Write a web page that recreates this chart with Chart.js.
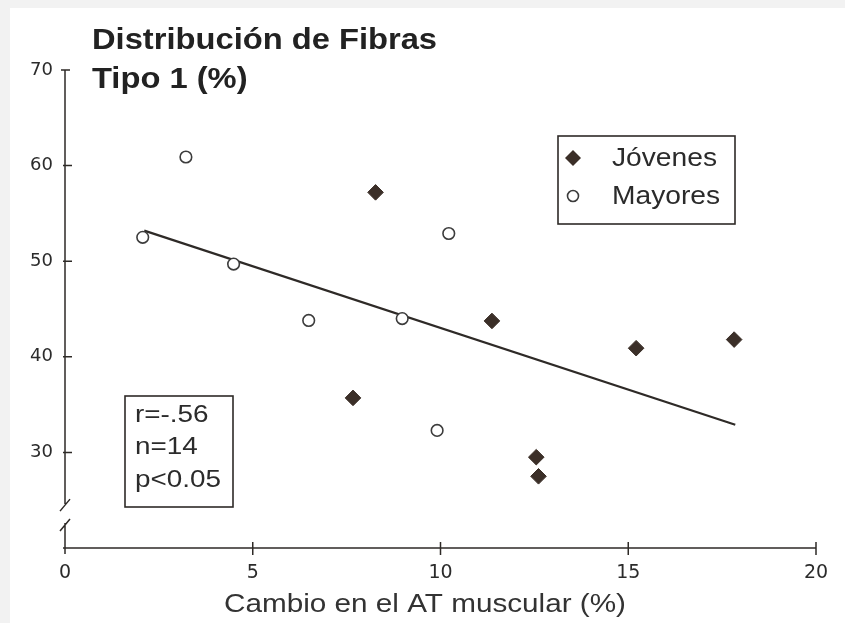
<!DOCTYPE html>
<html>
<head>
<meta charset="utf-8">
<script src="https://cdn.jsdelivr.net/npm/chart.js@4.4.1/dist/chart.umd.min.js"></script>
<style>
  html, body { margin: 0; padding: 0; background: #f2f2f2; }
  #wrap { position: relative; width: 845px; height: 623px; }
</style>
</head>
<body>
<div id="wrap"><canvas id="myChart" width="845" height="623"></canvas></div>
<script>
// values
var jovenesX = [8.27, 11.37, 15.21, 17.82, 7.67, 12.55, 12.61];
var jovenesY = [57.2, 43.75, 40.9, 41.8, 35.7, 29.5, 27.5];
var mayoresX = [2.07, 3.22, 4.49, 6.49, 8.98, 10.22, 9.91];
var mayoresY = [52.5, 60.9, 49.7, 43.8, 44.0, 52.9, 32.3];
var fitX = [2.11, 17.85];
var fitY = [53.2, 32.9];
var xTicks = [0, 5, 10, 15, 20];
var yTicks = [30, 40, 50, 60, 70];
var titleLines = ["Distribución de Fibras", "Tipo 1 (%)"];
var statsLines = ["r=-.56", "n=14", "p<0.05"];
var seriesNames = ["Jóvenes", "Mayores"];
var xTitle = "Cambio en el AT muscular (%)";

var ink = '#2e2a27';
var diamondColor = '#3b2f28';

function toPoints(xs, ys) {
    var pts = [];
    for (var i = 0; i < xs.length; i++) pts.push({x: xs[i], y: ys[i]});
    return pts;
}

// the original print is stretched sideways, so text gets a horizontal scale
function stretchText(c, text, left, cy, sx) {
    c.save();
    c.translate(left, cy);
    c.scale(sx, 1);
    c.fillText(text, 0, 0);
    c.restore();
}
function fitScale(c, text, width) {
    return width / c.measureText(text).width;
}

// axes, ticks, axis break, title, legend and stats box
var decorations = {
    id: 'decorations',
    beforeDraw: function(chart) {
        var c = chart.ctx;
        c.save();
        c.fillStyle = '#f2f2f2';
        c.fillRect(0, 0, chart.width, chart.height);
        c.fillStyle = '#ffffff';
        c.fillRect(10, 8, chart.width - 10, chart.height - 8);
        c.restore();
    },
    afterDatasetsDraw: function(chart) {
        var c = chart.ctx;
        var xs = chart.scales.x, ys = chart.scales.y;
        var x0 = xs.getPixelForValue(0);
        var yBottom = ys.getPixelForValue(20);
        c.save();
        c.strokeStyle = ink;
        c.lineWidth = 1.5;

        // y axis with break
        var yTop = ys.getPixelForValue(70);
        var brkHi = ys.getPixelForValue(24.8);
        var brkLo = ys.getPixelForValue(22.4);
        c.beginPath();
        c.moveTo(x0, yTop); c.lineTo(x0, brkHi + 2);
        c.moveTo(x0, brkLo - 2); c.lineTo(x0, yBottom);
        c.moveTo(x0 - 5, brkHi + 9); c.lineTo(x0 + 5, brkHi - 3);
        c.moveTo(x0 - 5, brkLo + 6); c.lineTo(x0 + 5, brkLo - 6);
        c.stroke();

        // y ticks
        c.beginPath();
        yTicks.forEach(function(v) {
            var py = ys.getPixelForValue(v);
            if (v === 70) { c.moveTo(x0 - 4, py); c.lineTo(x0 + 5, py); }
            else { c.moveTo(x0 - 2, py); c.lineTo(x0 + 7, py); }
        });
        c.stroke();

        // x axis
        c.beginPath();
        c.moveTo(x0 - 2, yBottom); c.lineTo(xs.getPixelForValue(20), yBottom);
        xTicks.forEach(function(v) {
            var px = xs.getPixelForValue(v);
            if (v === 0) { c.moveTo(px, yBottom); c.lineTo(px, yBottom + 6); }
            else { c.moveTo(px, yBottom - 6); c.lineTo(px, yBottom + 7); }
        });
        c.stroke();

        c.textBaseline = 'middle';
        c.textAlign = 'left';

        // title
        c.fillStyle = '#222';
        c.font = 'bold 29px "Liberation Sans", Arial, sans-serif';
        var st = fitScale(c, titleLines[0], 345);
        stretchText(c, titleLines[0], 92, 41, st);
        stretchText(c, titleLines[1], 92, 80, st);

        // x axis title
        c.fillStyle = '#333';
        c.font = '25px "Liberation Sans", Arial, sans-serif';
        stretchText(c, xTitle, 224, 605, fitScale(c, xTitle, 402));

        // legend box
        c.lineWidth = 1.6;
        c.strokeRect(558, 136, 177, 88);
        c.fillStyle = diamondColor;
        c.beginPath();
        c.moveTo(573, 150); c.lineTo(581, 158); c.lineTo(573, 166); c.lineTo(565, 158);
        c.closePath(); c.fill();
        c.fillStyle = '#fff';
        c.strokeStyle = '#3c3c3c';
        c.beginPath(); c.arc(573, 196, 5.5, 0, Math.PI * 2); c.fill(); c.stroke();
        c.fillStyle = '#2b2b2b';
        c.font = '26px "Liberation Sans", Arial, sans-serif';
        var sl = fitScale(c, seriesNames[0], 105);
        stretchText(c, seriesNames[0], 612, 159, sl);
        stretchText(c, seriesNames[1], 612, 197, sl);

        // stats box
        c.strokeStyle = ink;
        c.strokeRect(125, 396, 108, 111);
        c.font = '24px "Liberation Sans", Arial, sans-serif';
        var ss = fitScale(c, statsLines[2], 86);
        stretchText(c, statsLines[0], 135, 415, ss);
        stretchText(c, statsLines[1], 135, 447, ss);
        stretchText(c, statsLines[2], 135, 480, ss);
        c.restore();
    }
};

var ctx = document.getElementById("myChart");
var myChart = new Chart(ctx, {
    type: 'scatter',
    data: {
        datasets: [{
            type: 'line',
            label: 'fit',
            data: toPoints(fitX, fitY),
            borderColor: ink,
            borderWidth: 2.2,
            pointRadius: 0,
            fill: false,
            order: 2
        }, {
            label: seriesNames[0],
            data: toPoints(jovenesX, jovenesY),
            pointStyle: 'rectRot',
            pointRadius: 7.8,
            backgroundColor: diamondColor,
            borderColor: diamondColor,
            borderWidth: 1,
            order: 1
        }, {
            label: seriesNames[1],
            data: toPoints(mayoresX, mayoresY),
            pointStyle: 'circle',
            pointRadius: 5.8,
            backgroundColor: '#ffffff',
            borderColor: '#3c3c3c',
            borderWidth: 1.6,
            order: 1
        }]
    },
    options: {
        responsive: false,
        animation: false,
        events: [],
        layout: { padding: { top: 70, right: 29, left: 0, bottom: 0 } },
        plugins: { legend: { display: false }, tooltip: { enabled: false } },
        scales: {
            x: {
                type: 'linear',
                min: 0, max: 20,
                afterFit: function(scale) { scale.height = 75; },
                afterBuildTicks: function(scale) { scale.ticks = xTicks.map(function(v) { return {value: v}; }); },
                grid: { display: false, drawTicks: false },
                border: { display: false },
                ticks: { color: '#2b2b2b', padding: 14, font: { family: '"DejaVu Sans"', size: 19 } }
            },
            y: {
                type: 'linear',
                min: 20, max: 70,
                afterFit: function(scale) { scale.width = 65; },
                afterBuildTicks: function(scale) { scale.ticks = yTicks.map(function(v) { return {value: v}; }); },
                grid: { display: false, drawTicks: false },
                border: { display: false },
                ticks: { color: '#2b2b2b', padding: 12, font: { family: '"DejaVu Sans"', size: 18 } }
            }
        }
    },
    plugins: [decorations]
});
</script>
</body>
</html>
